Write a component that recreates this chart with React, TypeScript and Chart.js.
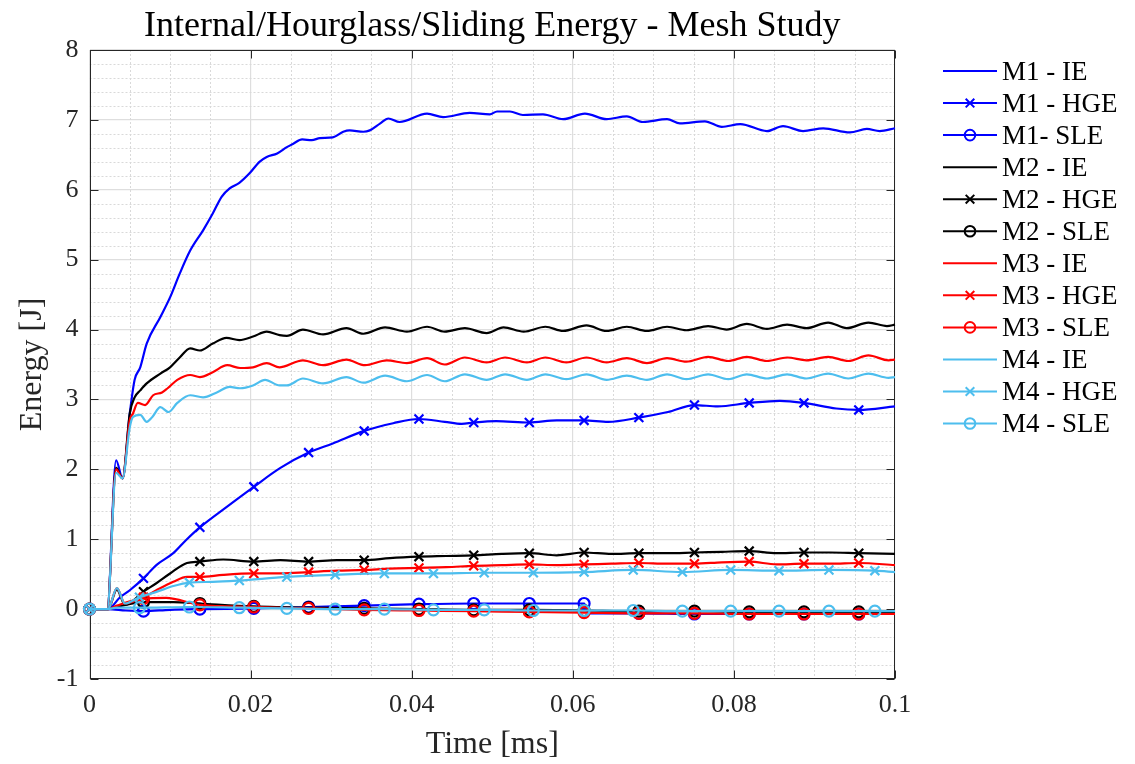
import React, { useEffect, useRef } from 'react';
import { Chart, registerables } from 'chart.js';

Chart.register(...registerables);

type P = [number, number];

// ---------- text ----------
const chartTitle = 'Internal/Hourglass/Sliding Energy - Mesh Study';
const xTitle = 'Time [ms]';
const yTitle = 'Energy [J]';
const seriesLabels = [
  'M1 - IE', 'M1 - HGE', 'M1- SLE',
  'M2 - IE', 'M2 - HGE', 'M2 - SLE',
  'M3 - IE', 'M3 - HGE', 'M3 - SLE',
  'M4 - IE', 'M4 - HGE', 'M4 - SLE',
];
const seriesKinds = ['ie', 'hge', 'sle', 'ie', 'hge', 'sle', 'ie', 'hge', 'sle', 'ie', 'hge', 'sle'];
const meshColors = ['#0000FF', '#000000', '#FF0000', '#4DBEEE'];

const xTickLabels = ['0', '0.02', '0.04', '0.06', '0.08', '0.1'];
const yTickLabels = ['-1', '0', '1', '2', '3', '4', '5', '6', '7', '8'];

// marker sample times (ms)
const markerTimesA = [0, 0.0067, 0.0137, 0.0204, 0.0272, 0.0341, 0.0409, 0.0477, 0.0546, 0.0614, 0.0682, 0.0751, 0.0819, 0.0887, 0.0955];
const markerTimesB = [0, 0.0062, 0.0124, 0.0186, 0.0245, 0.0305, 0.0366, 0.0427, 0.049, 0.0551, 0.0614, 0.0675, 0.0736, 0.0796, 0.0856, 0.0918, 0.0975];

// ---------- data: [time ms, energy J] ----------
const m1IE: P[] = [[0,0],[0.0022,0],[0.0033,2.13],[0.0041,1.87],[0.005,2.8],[0.0056,3.28],[0.0063,3.46],[0.0071,3.8],[0.0088,4.18],[0.01,4.46],[0.0112,4.8],[0.0125,5.13],[0.0141,5.42],[0.0153,5.66],[0.0164,5.9],[0.0174,6.02],[0.0186,6.1],[0.0199,6.24],[0.0211,6.4],[0.022,6.47],[0.0233,6.52],[0.0245,6.61],[0.0253,6.66],[0.0264,6.72],[0.0276,6.71],[0.0286,6.74],[0.0302,6.75],[0.0315,6.83],[0.0323,6.85],[0.034,6.83],[0.0348,6.85],[0.0361,6.95],[0.0371,7.02],[0.0385,6.97],[0.0419,7.09],[0.0439,7.04],[0.0472,7.1],[0.0497,7.08],[0.0506,7.12],[0.0522,7.12],[0.0538,7.07],[0.0563,7.08],[0.0588,7.01],[0.0615,7.09],[0.0642,7.01],[0.0667,7.05],[0.0687,6.97],[0.0717,7.01],[0.0733,6.95],[0.0764,6.98],[0.0785,6.9],[0.0808,6.94],[0.0841,6.84],[0.0861,6.91],[0.0886,6.84],[0.0911,6.88],[0.0944,6.82],[0.0965,6.87],[0.0981,6.84],[0.1,6.88]];
const m1HGE: P[] = [[0,0],[0.0023,0],[0.0038,0.17],[0.005,0.27],[0.0067,0.44],[0.0083,0.63],[0.0104,0.8],[0.012,0.99],[0.0137,1.17],[0.017,1.46],[0.0204,1.75],[0.0237,2.02],[0.0272,2.24],[0.0302,2.37],[0.0341,2.55],[0.0377,2.66],[0.0409,2.72],[0.0441,2.68],[0.0462,2.65],[0.0477,2.67],[0.0505,2.69],[0.0546,2.67],[0.058,2.7],[0.0614,2.7],[0.0644,2.68],[0.0682,2.74],[0.0718,2.82],[0.0751,2.92],[0.078,2.9],[0.0819,2.95],[0.0857,2.98],[0.0887,2.95],[0.0927,2.87],[0.0955,2.85],[0.1,2.9]];
const m1SLE: P[] = [[0,0],[0.0023,0],[0.0045,-0.02],[0.0067,-0.03],[0.01,-0.01],[0.0137,0],[0.0204,0.01],[0.0272,0.03],[0.0341,0.05],[0.0409,0.07],[0.0477,0.08],[0.0546,0.08],[0.0614,0.08],[0.062,-0.06],[0.0682,-0.06],[0.0751,-0.07],[0.0819,-0.07],[0.0887,-0.07],[0.0955,-0.07],[0.1,-0.07]];

const m2IE: P[] = [[0,0],[0.0022,0],[0.0033,2.02],[0.0041,1.87],[0.005,2.8],[0.0056,3.03],[0.0063,3.13],[0.0071,3.23],[0.0088,3.37],[0.01,3.46],[0.0112,3.6],[0.0125,3.73],[0.0137,3.7],[0.0153,3.8],[0.017,3.88],[0.0186,3.85],[0.0203,3.9],[0.022,3.97],[0.0236,3.92],[0.0245,3.91],[0.0265,4.0],[0.029,3.93],[0.0319,4.02],[0.034,3.94],[0.0367,4.03],[0.0394,3.97],[0.0419,4.04],[0.0441,3.97],[0.0466,4.02],[0.0493,3.95],[0.0514,4.03],[0.0539,3.97],[0.0566,4.04],[0.0588,3.98],[0.0617,4.06],[0.0642,3.98],[0.0667,4.04],[0.0692,3.98],[0.0717,4.04],[0.0741,3.99],[0.0768,4.05],[0.0791,4.0],[0.0816,4.08],[0.0841,4.01],[0.0866,4.07],[0.089,4.02],[0.0917,4.1],[0.094,4.02],[0.0967,4.1],[0.099,4.05],[0.1,4.07]];
const m2HGE: P[] = [[0,0],[0.0023,0],[0.0034,0.28],[0.0044,0.06],[0.0067,0.25],[0.0083,0.37],[0.01,0.51],[0.0121,0.66],[0.0137,0.68],[0.0166,0.71],[0.0204,0.68],[0.0237,0.7],[0.0272,0.68],[0.0307,0.7],[0.0341,0.7],[0.0373,0.73],[0.0409,0.75],[0.0443,0.76],[0.0477,0.77],[0.0512,0.79],[0.0546,0.8],[0.058,0.77],[0.0614,0.81],[0.0648,0.79],[0.0682,0.8],[0.0717,0.8],[0.0751,0.81],[0.0785,0.82],[0.0819,0.83],[0.0853,0.8],[0.0887,0.81],[0.092,0.81],[0.0955,0.8],[0.1,0.79]];
const m2SLE: P[] = [[0,0],[0.0023,0],[0.0034,0.03],[0.0067,0.1],[0.0104,0.1],[0.0137,0.08],[0.0204,0.04],[0.0272,0.02],[0.0341,0.01],[0.0409,0],[0.0477,-0.01],[0.0546,-0.01],[0.0614,-0.02],[0.0682,-0.03],[0.0751,-0.03],[0.0819,-0.04],[0.0887,-0.04],[0.0955,-0.04],[0.1,-0.04]];

const m3IE: P[] = [[0,0],[0.0022,0],[0.0033,2.0],[0.0041,1.87],[0.005,2.7],[0.0054,2.8],[0.006,2.95],[0.0069,2.92],[0.0079,3.06],[0.009,3.1],[0.0097,3.16],[0.0109,3.28],[0.0125,3.35],[0.0137,3.32],[0.0153,3.39],[0.0171,3.49],[0.0187,3.45],[0.0203,3.46],[0.022,3.52],[0.0236,3.46],[0.0241,3.47],[0.0265,3.56],[0.029,3.49],[0.0319,3.57],[0.0342,3.49],[0.0369,3.56],[0.0394,3.52],[0.0419,3.59],[0.0441,3.5],[0.0466,3.6],[0.0493,3.53],[0.0516,3.6],[0.0543,3.53],[0.0566,3.6],[0.0592,3.53],[0.0617,3.6],[0.0642,3.53],[0.0667,3.59],[0.0692,3.52],[0.0717,3.59],[0.0741,3.54],[0.0768,3.61],[0.0793,3.55],[0.0816,3.61],[0.0841,3.55],[0.0866,3.6],[0.089,3.56],[0.0917,3.61],[0.0942,3.55],[0.0967,3.63],[0.0992,3.56],[0.1,3.57]];
const m3HGE: P[] = [[0,0],[0.0023,0],[0.0034,0.3],[0.0044,0.08],[0.0067,0.17],[0.0083,0.27],[0.0104,0.39],[0.0121,0.46],[0.0137,0.46],[0.0166,0.49],[0.0204,0.51],[0.0237,0.51],[0.0272,0.53],[0.0307,0.55],[0.0341,0.56],[0.0373,0.58],[0.0409,0.59],[0.0443,0.6],[0.0477,0.62],[0.0512,0.63],[0.0546,0.64],[0.058,0.63],[0.0614,0.64],[0.0648,0.65],[0.0682,0.66],[0.0717,0.65],[0.0751,0.65],[0.0785,0.67],[0.0819,0.68],[0.0853,0.64],[0.0887,0.65],[0.092,0.65],[0.0955,0.66],[0.1,0.63]];
const m3SLE: P[] = [[0,0],[0.0023,0],[0.0034,0.05],[0.0067,0.15],[0.0095,0.16],[0.0137,0.06],[0.0204,0.03],[0.0272,0.01],[0.0341,-0.01],[0.0409,-0.02],[0.0477,-0.03],[0.0546,-0.04],[0.0614,-0.05],[0.0682,-0.06],[0.0751,-0.06],[0.0819,-0.07],[0.0887,-0.07],[0.0955,-0.07],[0.1,-0.07]];

const m4IE: P[] = [[0,0],[0.0022,0],[0.0033,1.95],[0.0041,1.87],[0.005,2.6],[0.0054,2.75],[0.0063,2.78],[0.0071,2.68],[0.0078,2.75],[0.0088,2.89],[0.0098,2.82],[0.0109,2.95],[0.0125,3.06],[0.0141,3.03],[0.0158,3.1],[0.0174,3.18],[0.0187,3.16],[0.0203,3.2],[0.0218,3.28],[0.0236,3.2],[0.0245,3.2],[0.0265,3.3],[0.029,3.23],[0.0319,3.32],[0.034,3.24],[0.0367,3.34],[0.0394,3.26],[0.0419,3.35],[0.0441,3.26],[0.0466,3.36],[0.0493,3.28],[0.0516,3.36],[0.0543,3.28],[0.0566,3.36],[0.0592,3.29],[0.0617,3.36],[0.0642,3.28],[0.0667,3.34],[0.0692,3.28],[0.0717,3.36],[0.0741,3.29],[0.0768,3.36],[0.0793,3.29],[0.0816,3.36],[0.0841,3.3],[0.0866,3.36],[0.089,3.3],[0.0917,3.37],[0.0942,3.3],[0.0967,3.37],[0.0992,3.31],[0.1,3.32]];
const m4HGE: P[] = [[0,0],[0.0023,0],[0.0034,0.3],[0.0044,0.08],[0.0062,0.17],[0.0084,0.25],[0.0104,0.33],[0.0124,0.38],[0.0153,0.39],[0.0186,0.41],[0.0245,0.46],[0.0305,0.49],[0.0366,0.51],[0.0427,0.51],[0.049,0.52],[0.0551,0.52],[0.0614,0.53],[0.0675,0.56],[0.0736,0.53],[0.0796,0.56],[0.0856,0.55],[0.0918,0.56],[0.0975,0.55],[0.1,0.53]];
const m4SLE: P[] = [[0,0],[0.0023,0],[0.0034,0.02],[0.0062,0.02],[0.0124,0.03],[0.0186,0.02],[0.0245,0.01],[0.0305,0],[0.0366,0],[0.0427,-0.01],[0.049,-0.01],[0.0551,-0.02],[0.0614,-0.02],[0.0675,-0.02],[0.0736,-0.03],[0.0796,-0.03],[0.0856,-0.03],[0.0918,-0.03],[0.0975,-0.03],[0.1,-0.03]];

const seriesData: P[][] = [m1IE, m1HGE, m1SLE, m2IE, m2HGE, m2SLE, m3IE, m3HGE, m3SLE, m4IE, m4HGE, m4SLE];

// ---------- axes ----------
const xMin = 0, xMax = 0.1, xStep = 0.02, xMinorStep = 0.005;
const yMin = -1, yMax = 8, yStep = 1, yMinorStep = 0.2;

const FONT = "'Liberation Serif', 'Times New Roman', serif";
const AXIS_COLOR = '#262626';

function drawMarker(ctx: CanvasRenderingContext2D, kind: string, x: number, y: number, color: string) {
  ctx.save();
  ctx.strokeStyle = color;
  ctx.lineWidth = 2;
  if (kind === 'hge') {
    const o = 4.3;
    ctx.beginPath();
    ctx.moveTo(x - o, y - o); ctx.lineTo(x + o, y + o);
    ctx.moveTo(x - o, y + o); ctx.lineTo(x + o, y - o);
    ctx.stroke();
  } else if (kind === 'sle') {
    ctx.beginPath();
    ctx.arc(x, y, 5.3, 0, Math.PI * 2);
    ctx.stroke();
  }
  ctx.restore();
}

const framePlugin = {
  id: 'matlabFrame',
  beforeDatasetsDraw(chart: any) {
    const { ctx, chartArea: a, scales } = chart;
    const xs = scales.x, ys = scales.y;
    ctx.save();
    // minor dotted grid
    ctx.strokeStyle = '#d9d9d9';
    ctx.lineWidth = 1;
    ctx.setLineDash([2, 2]);
    const nx = Math.round((xMax - xMin) / xMinorStep);
    const perX = Math.round(xStep / xMinorStep);
    for (let k = 1; k < nx; k++) {
      if (k % perX === 0) continue;
      const px = Math.round(xs.getPixelForValue(xMin + k * xMinorStep)) + 0.5;
      ctx.beginPath(); ctx.moveTo(px, a.top); ctx.lineTo(px, a.bottom); ctx.stroke();
    }
    const ny = Math.round((yMax - yMin) / yMinorStep);
    const perY = Math.round(yStep / yMinorStep);
    for (let k = 1; k < ny; k++) {
      if (k % perY === 0) continue;
      const py = Math.round(ys.getPixelForValue(yMin + k * yMinorStep)) + 0.5;
      ctx.beginPath(); ctx.moveTo(a.left, py); ctx.lineTo(a.right, py); ctx.stroke();
    }
    ctx.setLineDash([]);
    // box
    ctx.strokeStyle = AXIS_COLOR;
    ctx.lineWidth = 1;
    const l = Math.round(a.left) + 0.5, r = Math.round(a.right) - 0.5;
    const t = Math.round(a.top) + 0.5, b = Math.round(a.bottom) - 0.5;
    ctx.strokeRect(l, t, r - l, b - t);
    // inward ticks on all four sides
    const tl = 8;
    const nMajX = Math.round((xMax - xMin) / xStep);
    for (let k = 0; k <= nMajX; k++) {
      const px = Math.round(xs.getPixelForValue(xMin + k * xStep)) + 0.5;
      ctx.beginPath();
      ctx.moveTo(px, b); ctx.lineTo(px, b - tl);
      ctx.moveTo(px, t); ctx.lineTo(px, t + tl);
      ctx.stroke();
    }
    const nMajY = Math.round((yMax - yMin) / yStep);
    for (let k = 0; k <= nMajY; k++) {
      const py = Math.round(ys.getPixelForValue(yMin + k * yStep)) + 0.5;
      ctx.beginPath();
      ctx.moveTo(l, py); ctx.lineTo(l + tl, py);
      ctx.moveTo(r, py); ctx.lineTo(r - tl, py);
      ctx.stroke();
    }
    ctx.restore();
  },
  afterDraw(chart: any) {
    const { ctx, chartArea: a } = chart;
    ctx.save();
    // title
    ctx.fillStyle = '#000000';
    ctx.font = `36px ${FONT}`;
    ctx.textAlign = 'center';
    ctx.textBaseline = 'alphabetic';
    ctx.fillText(chartTitle, (a.left + a.right) / 2, 36);
    // legend
    const x0 = a.right + 48;
    const x1 = x0 + 54;
    const y0 = a.top + 21;
    const rowH = 32.05;
    ctx.font = `27px ${FONT}`;
    ctx.textAlign = 'left';
    chart.data.datasets.forEach((ds: any, i: number) => {
      const y = y0 + i * rowH;
      const color = ds.borderColor;
      ctx.strokeStyle = color;
      ctx.lineWidth = 2;
      ctx.beginPath(); ctx.moveTo(x0, y); ctx.lineTo(x1, y); ctx.stroke();
      drawMarker(ctx, seriesKinds[i], (x0 + x1) / 2, y, color);
      ctx.fillStyle = '#000000';
      ctx.fillText(ds.label, x1 + 5, y + 8.8);
    });
    ctx.restore();
  },
};

function isMarker(t: number, times: number[]) {
  return times.some((m) => Math.abs(m - t) < 1e-7);
}

export default function App() {
  const canvasRef = useRef<HTMLCanvasElement | null>(null);

  useEffect(() => {
    const canvas = canvasRef.current;
    if (!canvas) return;
    const datasets = seriesData.map((pts, i) => {
      const mesh = Math.floor(i / 3);
      const kind = seriesKinds[i];
      const color = meshColors[mesh];
      const times = mesh === 3 ? markerTimesB : markerTimesA;
      return {
        label: seriesLabels[i],
        data: pts.map(([x, y]) => ({ x, y })),
        borderColor: color,
        backgroundColor: color,
        borderWidth: 2.2,
        borderJoinStyle: 'round' as const,
        cubicInterpolationMode: 'monotone' as const,
        pointStyle: kind === 'hge' ? 'crossRot' : 'circle',
        pointRadius: (c: any) => {
          if (kind === 'ie' || !c.raw) return 0;
          if (!isMarker(c.raw.x, times)) return 0;
          return kind === 'hge' ? 6.3 : 5.5;
        },
        pointHoverRadius: 0,
        pointBorderWidth: 2.2,
        pointBorderColor: color,
        pointBackgroundColor: 'rgba(0,0,0,0)',
        fill: false,
        order: 12 - i,
        clip: 8,
      };
    });

    const chart = new Chart(canvas, {
      type: 'line',
      data: { datasets },
      options: {
        animation: false,
        responsive: false,
        devicePixelRatio: 1,
        events: [],
        layout: { padding: { left: 0, right: 240, top: 50, bottom: 0 } },
        plugins: {
          legend: { display: false },
          tooltip: { enabled: false },
          title: { display: false },
        },
        scales: {
          x: {
            type: 'linear',
            min: xMin,
            max: xMax,
            ticks: {
              stepSize: xStep,
              autoSkip: false,
              maxRotation: 0,
              padding: 11,
              color: AXIS_COLOR,
              font: { family: FONT, size: 26 },
              callback: (_v: any, idx: number) => xTickLabels[idx],
            },
            grid: { color: '#dedede', lineWidth: 1.2, drawTicks: false },
            border: { display: false },
            title: {
              display: true,
              text: xTitle,
              color: AXIS_COLOR,
              font: { family: FONT, size: 32 },
              padding: { top: 0, bottom: 0 },
            },
            afterFit: (s: any) => { s.height = 85; },
          },
          y: {
            type: 'linear',
            min: yMin,
            max: yMax,
            ticks: {
              stepSize: yStep,
              autoSkip: false,
              padding: 11,
              color: AXIS_COLOR,
              font: { family: FONT, size: 26 },
              callback: (_v: any, idx: number) => yTickLabels[idx],
            },
            grid: { color: '#dedede', lineWidth: 1.2, drawTicks: false },
            border: { display: false },
            title: {
              display: true,
              text: yTitle,
              color: AXIS_COLOR,
              font: { family: FONT, size: 32 },
              padding: { top: 13, bottom: 0 },
            },
            afterFit: (s: any) => { s.width = 89.5; },
          },
        },
      },
      plugins: [framePlugin],
    } as any);

    return () => chart.destroy();
  }, []);

  return (
    <div style={{ position: 'fixed', left: 0, top: 0, width: 1135, height: 764, background: '#ffffff' }}>
      <canvas ref={canvasRef} width={1135} height={764} style={{ width: 1135, height: 764, display: 'block' }} />
    </div>
  );
}
